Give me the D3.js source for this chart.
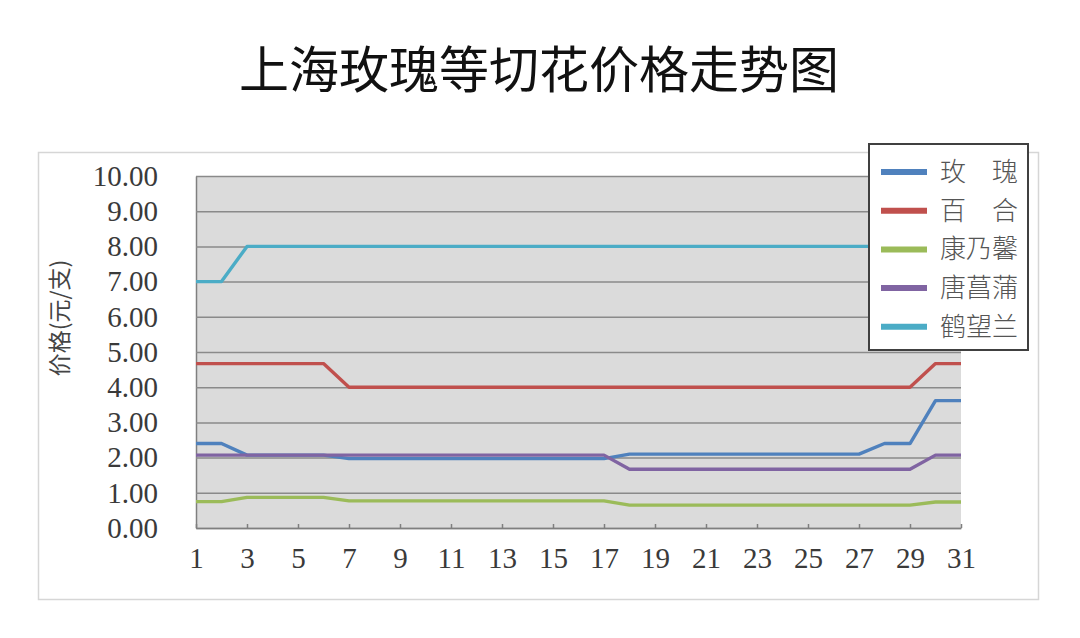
<!DOCTYPE html>
<html>
<head>
<meta charset="utf-8">
<script src="https://cdn.jsdelivr.net/npm/d3@7"></script>
<style>
  body { margin: 0; background: #fff; }
  svg { display: block; }
</style>
</head>
<body>
<svg id="chart" width="1080" height="638"></svg>
<script>
// days of the month (category axis)
var days = [1,2,3,4,5,6,7,8,9,10,11,12,13,14,15,16,17,18,19,20,21,22,23,24,25,26,27,28,29,30,31];

// prices, yuan per stem
var rose       = [2.40,2.40,2.07,2.07,2.07,2.07,1.97,1.97,1.97,1.97,1.97,1.97,1.97,1.97,1.97,1.97,1.97,2.10,2.10,2.10,2.10,2.10,2.10,2.10,2.10,2.10,2.10,2.40,2.40,3.62,3.62];
var lily       = [4.67,4.67,4.67,4.67,4.67,4.67,4.00,4.00,4.00,4.00,4.00,4.00,4.00,4.00,4.00,4.00,4.00,4.00,4.00,4.00,4.00,4.00,4.00,4.00,4.00,4.00,4.00,4.00,4.00,4.67,4.67];
var carnation  = [0.75,0.75,0.87,0.87,0.87,0.87,0.77,0.77,0.77,0.77,0.77,0.77,0.77,0.77,0.77,0.77,0.77,0.65,0.65,0.65,0.65,0.65,0.65,0.65,0.65,0.65,0.65,0.65,0.65,0.74,0.74];
var gladiolus  = [2.07,2.07,2.07,2.07,2.07,2.07,2.07,2.07,2.07,2.07,2.07,2.07,2.07,2.07,2.07,2.07,2.07,1.67,1.67,1.67,1.67,1.67,1.67,1.67,1.67,1.67,1.67,1.67,1.67,2.07,2.07];
var strelitzia = [7.00,7.00,8.00,8.00,8.00,8.00,8.00,8.00,8.00,8.00,8.00,8.00,8.00,8.00,8.00,8.00,8.00,8.00,8.00,8.00,8.00,8.00,8.00,8.00,8.00,8.00,8.00,8.00,8.00,8.00,8.00];

var seriesNames = ["玫\u3000瑰", "百\u3000合", "康乃馨", "唐菖蒲", "鹤望兰"];
var seriesColors = ["#4f81bd", "#c0504d", "#9bbb59", "#8064a2", "#4bacc6"];
var xTicks = [1,3,5,7,9,11,13,15,17,19,21,23,25,27,29,31];
var yTicks = [0,1,2,3,4,5,6,7,8,9,10];

var series = [rose, lily, carnation, gladiolus, strelitzia].map(function(vals, k) {
  return {
    name: seriesNames[k],
    color: seriesColors[k],
    values: vals.map(function(v, i) { return { day: days[i], value: v }; })
  };
});

var svg = d3.select("#chart");

var plot = { left: 196, right: 961, top: 176, bottom: 528 };

var x = d3.scaleLinear().domain([1, 31]).range([plot.left, plot.right]);
var y = d3.scaleLinear().domain([0, 10]).range([plot.bottom, plot.top]);

// title
svg.append("text")
    .attr("x", 539)
    .attr("y", 88)
    .attr("text-anchor", "middle")
    .style("font-family", "'Noto Sans CJK SC', sans-serif")
    .style("font-size", "50px")
    .style("fill", "#111")
    .text("上海玫瑰等切花价格走势图");

// chart area border
svg.append("rect")
    .attr("x", 38.5)
    .attr("y", 152.5)
    .attr("width", 1000)
    .attr("height", 447)
    .attr("fill", "#fff")
    .attr("stroke", "#d6d6d6")
    .attr("stroke-width", 1.5);

// plot background
svg.append("rect")
    .attr("x", plot.left)
    .attr("y", plot.top)
    .attr("width", plot.right - plot.left)
    .attr("height", plot.bottom - plot.top)
    .attr("fill", "#dbdbdb");

// y axis with gridlines
var yAxis = svg.append("g")
    .attr("transform", "translate(" + plot.left + ",0)")
    .call(d3.axisLeft(y)
      .tickValues(yTicks)
      .tickFormat(d3.format(".2f"))
      .tickSizeInner(-(plot.right - plot.left))
      .tickSizeOuter(0)
      .tickPadding(38));

yAxis.select(".domain")
    .attr("stroke", "#7f7f7f")
    .attr("stroke-width", 1.5);
yAxis.selectAll(".tick line")
    .attr("stroke", "#8a8a8a")
    .attr("stroke-width", 1.5);
yAxis.selectAll(".tick text")
    .style("font-family", "'Liberation Serif', serif")
    .style("font-size", "29px")
    .style("fill", "#3a3a3a");

// x axis, ticks point inward
var xAxis = svg.append("g")
    .attr("transform", "translate(0," + plot.bottom + ")")
    .call(d3.axisBottom(x)
      .tickValues(xTicks)
      .tickSizeInner(-4)
      .tickSizeOuter(0)
      .tickPadding(19));

xAxis.select(".domain")
    .attr("stroke", "#7f7f7f")
    .attr("stroke-width", 1.5);
xAxis.selectAll(".tick line")
    .attr("stroke", "#7f7f7f")
    .attr("stroke-width", 1.5);
xAxis.selectAll(".tick text")
    .style("font-family", "'Liberation Serif', serif")
    .style("font-size", "29px")
    .style("fill", "#3a3a3a");

// y axis title
svg.append("text")
    .attr("transform", "translate(68,318) rotate(-90)")
    .attr("text-anchor", "middle")
    .style("font-family", "'Noto Sans CJK SC', sans-serif")
    .style("font-size", "23px")
    .style("fill", "#444")
    .text("价格(元/支)");

// lines
var line = d3.line()
    .x(function(d) { return x(d.day); })
    .y(function(d) { return y(d.value); });

svg.append("g")
  .selectAll("path")
  .data(series)
  .join("path")
    .attr("d", function(d) { return line(d.values); })
    .attr("fill", "none")
    .attr("stroke", function(d) { return d.color; })
    .attr("stroke-width", 3.4)
    .attr("stroke-linejoin", "round");

// legend
var legend = svg.append("g");

legend.append("rect")
    .attr("x", 869)
    .attr("y", 144)
    .attr("width", 159)
    .attr("height", 206)
    .attr("fill", "#fff")
    .attr("stroke", "#404040")
    .attr("stroke-width", 2);

var row = legend.selectAll("g.row")
  .data(series)
  .join("g")
    .attr("class", "row")
    .attr("transform", function(d, i) { return "translate(0," + (172 + i * 38.7) + ")"; });

row.append("line")
    .attr("x1", 881)
    .attr("x2", 927)
    .attr("stroke", function(d) { return d.color; })
    .attr("stroke-width", 6);

row.append("text")
    .attr("x", 940)
    .attr("y", 9)
    .style("font-family", "'Noto Sans CJK SC', sans-serif")
    .style("font-size", "26px")
    .style("font-weight", "300")
    .style("fill", "#555")
    .text(function(d) { return d.name; });
</script>
</body>
</html>
